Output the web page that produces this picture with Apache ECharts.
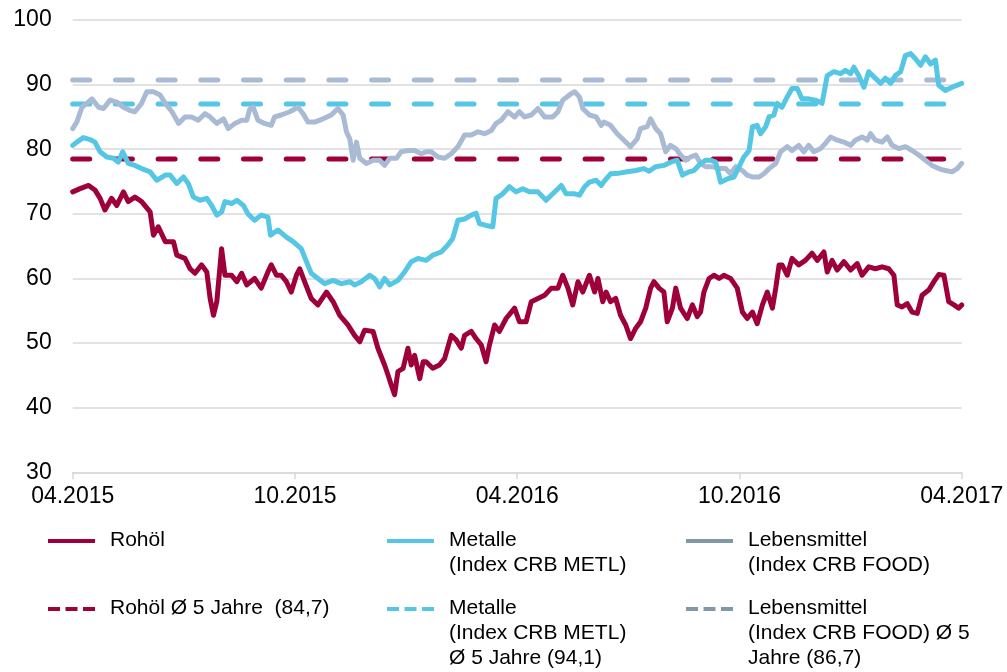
<!DOCTYPE html>
<html>
<head>
<meta charset="utf-8">
<script src="https://cdn.jsdelivr.net/npm/echarts/dist/echarts.min.js"></script>
<style>
  html, body { margin: 0; padding: 0; background: #fff; }
  #chart { width: 1007px; height: 672px; }
</style>
</head>
<body>
<div id="chart"></div>
<script>
// x = Monate seit 04.2015
const tickLabels = ['04.2015', '10.2015', '04.2016', '10.2016', '04.2017']

const rohoel = [
  [0,73.4],[0.20,73.9],[0.43,74.4],[0.60,73.7],[0.74,72.4],[0.87,70.6],[1.05,72.4],[1.19,71.3],
  [1.37,73.4],[1.50,71.9],[1.68,72.6],[1.86,71.9],[2.09,70.3],[2.18,66.7],[2.31,68.0],[2.50,65.7],
  [2.72,65.7],[2.81,63.6],[3.03,63.1],[3.17,61.5],[3.30,60.8],[3.48,62.1],[3.62,61.0],[3.71,56.9],
  [3.80,54.3],[3.89,56.4],[4.02,64.6],[4.11,60.5],[4.29,60.5],[4.43,59.5],[4.56,60.8],[4.70,59.0],
  [4.91,60.0],[5.09,58.5],[5.27,61.0],[5.36,62.1],[5.50,60.5],[5.63,60.5],[5.77,59.5],[5.90,57.9],
  [6.04,60.5],[6.13,61.5],[6.26,59.5],[6.44,56.9],[6.62,55.9],[6.85,57.9],[7.03,56.4],[7.21,54.3],
  [7.43,52.8],[7.61,51.2],[7.75,50.2],[7.88,52.0],[8.11,51.8],[8.24,49.2],[8.42,46.6],[8.51,45.1],
  [8.60,43.5],[8.69,42.0],[8.78,45.6],[8.92,46.1],[9.05,49.2],[9.14,46.6],[9.23,48.1],[9.37,44.5],
  [9.46,47.1],[9.54,47.1],[9.72,46.1],[9.90,46.6],[10.04,47.6],[10.22,51.2],[10.35,50.5],[10.49,49.2],
  [10.58,51.2],[10.76,51.8],[10.89,50.7],[11.03,49.7],[11.16,47.1],[11.25,49.7],[11.39,52.8],[11.52,51.8],
  [11.70,53.8],[11.93,55.4],[12.06,53.3],[12.24,53.3],[12.38,56.4],[12.56,56.9],[12.74,57.4],[12.92,58.5],
  [13.10,58.5],[13.23,60.5],[13.37,58.5],[13.50,55.9],[13.64,59.5],[13.77,57.9],[13.95,60.5],[14.09,57.9],
  [14.18,60.0],[14.31,56.4],[14.40,57.9],[14.52,56.4],[14.66,56.9],[14.79,54.3],[14.93,52.8],[15.06,50.7],
  [15.20,52.3],[15.33,53.3],[15.47,55.4],[15.60,58.5],[15.69,59.5],[15.83,58.5],[15.96,57.9],[16.05,53.3],
  [16.19,55.4],[16.28,58.5],[16.41,55.4],[16.59,53.8],[16.73,55.9],[16.86,54.1],[16.95,54.8],[17.04,57.9],
  [17.18,60.0],[17.31,60.5],[17.45,60.0],[17.58,60.5],[17.76,60.0],[17.94,58.5],[18.08,54.8],[18.21,53.8],
  [18.35,54.8],[18.48,53.0],[18.62,55.9],[18.75,57.9],[18.89,55.4],[18.98,58.5],[19.07,62.1],[19.15,62.1],
  [19.29,60.5],[19.42,63.1],[19.60,62.1],[19.78,62.8],[19.96,63.9],[20.10,62.8],[20.28,64.1],[20.37,61.0],
  [20.50,62.8],[20.64,61.3],[20.82,62.6],[21.00,61.3],[21.18,62.3],[21.31,60.5],[21.49,61.8],[21.67,61.5],
  [21.85,61.8],[22.03,61.5],[22.17,60.5],[22.26,55.9],[22.39,55.6],[22.53,56.1],[22.66,54.8],[22.80,54.6],
  [22.93,57.4],[23.11,58.2],[23.25,59.5],[23.38,60.6],[23.52,60.5],[23.65,56.4],[23.79,55.9],[23.92,55.4],
  [24,55.9]
]

const metalle = [
  [0,80.6],[0.11,81.1],[0.29,81.8],[0.47,81.5],[0.60,81.1],[0.74,79.6],[0.92,78.8],[1.10,78.6],
  [1.23,78.0],[1.35,79.6],[1.50,77.8],[1.68,77.5],[1.86,77.0],[2.09,76.5],[2.27,75.2],[2.50,76.0],
  [2.63,76.0],[2.81,74.7],[2.99,75.7],[3.12,74.7],[3.26,72.6],[3.44,72.1],[3.62,72.4],[3.75,71.3],
  [3.89,69.8],[4.02,70.3],[4.11,71.9],[4.29,71.6],[4.43,72.1],[4.61,71.3],[4.73,70.0],[4.91,69.0],
  [5.09,69.8],[5.27,69.5],[5.34,66.7],[5.54,67.5],[5.77,66.4],[5.95,65.7],[6.17,64.6],[6.31,62.6],
  [6.44,60.8],[6.62,60.0],[6.80,59.2],[7.03,59.7],[7.25,59.2],[7.48,59.5],[7.61,59.0],[7.79,59.5],
  [8.02,60.5],[8.15,60.0],[8.29,58.7],[8.42,60.0],[8.56,59.0],[8.78,59.7],[8.96,61.0],[9.14,62.6],
  [9.32,63.1],[9.54,62.8],[9.72,63.6],[9.95,64.1],[10.13,65.2],[10.26,66.2],[10.40,69.0],[10.58,69.2],
  [10.76,69.8],[10.89,70.1],[10.98,68.5],[11.16,68.2],[11.34,68.0],[11.43,72.4],[11.61,73.1],[11.79,74.2],
  [11.97,73.4],[12.15,73.9],[12.33,73.4],[12.56,73.4],[12.78,72.1],[12.96,73.1],[13.19,74.4],[13.32,73.1],
  [13.55,73.1],[13.68,72.9],[13.82,74.2],[13.95,74.9],[14.13,75.2],[14.27,74.4],[14.34,75.0],[14.52,76.2],
  [14.75,76.3],[14.97,76.5],[15.20,76.7],[15.42,77.0],[15.56,76.6],[15.74,77.3],[15.96,77.5],[16.14,78.0],
  [16.32,78.3],[16.46,76.0],[16.64,76.5],[16.77,76.7],[16.95,77.8],[17.09,78.3],[17.22,78.3],[17.36,78.0],
  [17.49,74.9],[17.67,75.4],[17.85,75.7],[17.99,77.3],[18.12,78.8],[18.26,79.8],[18.35,83.5],[18.48,83.7],
  [18.57,82.4],[18.71,83.5],[18.80,85.0],[18.93,85.3],[19.02,87.1],[19.15,86.5],[19.29,88.1],[19.42,89.4],
  [19.56,89.4],[19.69,87.8],[19.87,87.8],[20.05,87.6],[20.23,87.1],[20.37,91.4],[20.55,92.0],[20.73,91.7],
  [20.86,92.2],[21.00,91.7],[21.09,92.7],[21.22,91.4],[21.36,89.6],[21.49,92.0],[21.63,91.2],[21.81,90.2],
  [21.94,91.0],[22.08,90.2],[22.21,91.4],[22.35,92.0],[22.48,94.5],[22.62,94.8],[22.75,94.0],[22.89,93.0],
  [23.02,94.3],[23.16,93.2],[23.29,93.8],[23.38,89.9],[23.56,89.1],[23.74,89.6],[24,90.2]
]

const lebensmittel = [
  [0,83.2],[0.11,84.2],[0.25,86.5],[0.38,87.1],[0.52,87.8],[0.70,86.5],[0.83,86.3],[1.01,87.6],
  [1.19,87.3],[1.37,86.5],[1.55,86.0],[1.68,85.8],[1.86,87.1],[2.00,88.9],[2.18,88.9],[2.36,88.4],
  [2.50,87.1],[2.68,85.8],[2.86,84.0],[3.03,85.0],[3.21,85.0],[3.39,84.5],[3.57,85.5],[3.71,85.0],
  [3.89,84.0],[4.07,84.7],[4.20,83.2],[4.38,84.0],[4.56,84.5],[4.70,84.5],[4.78,86.2],[4.87,86.5],
  [5.00,84.5],[5.18,84.0],[5.36,83.7],[5.45,85.0],[5.63,85.3],[5.86,85.8],[6.08,86.5],[6.22,85.5],
  [6.35,84.2],[6.53,84.2],[6.76,84.7],[6.98,85.3],[7.16,86.3],[7.30,85.3],[7.39,82.7],[7.48,81.6],
  [7.57,78.3],[7.66,81.1],[7.75,78.6],[7.93,77.8],[8.11,78.3],[8.29,78.3],[8.42,77.5],[8.56,78.6],
  [8.74,78.6],[8.87,79.6],[9.05,79.8],[9.23,79.8],[9.41,79.3],[9.54,79.6],[9.68,79.6],[9.86,78.8],
  [10.04,78.6],[10.22,79.3],[10.40,80.4],[10.58,82.2],[10.76,82.2],[10.94,82.7],[11.12,82.4],[11.30,82.9],
  [11.43,84.0],[11.57,84.5],[11.75,85.8],[11.93,85.0],[12.06,85.8],[12.20,85.0],[12.38,85.3],[12.56,86.3],
  [12.74,85.0],[12.96,85.0],[13.10,85.8],[13.23,87.6],[13.41,88.4],[13.55,88.9],[13.68,88.1],[13.77,86.3],
  [13.95,85.3],[14.13,85.0],[14.27,83.7],[14.34,84.2],[14.52,83.7],[14.70,82.4],[14.88,81.4],[15.06,80.4],
  [15.24,81.6],[15.33,83.2],[15.51,83.5],[15.60,84.7],[15.74,83.2],[15.87,82.4],[16.01,79.6],[16.14,80.6],
  [16.28,80.1],[16.41,79.1],[16.55,78.3],[16.68,78.8],[16.82,79.1],[16.95,77.8],[17.09,77.3],[17.27,77.3],
  [17.45,77.0],[17.63,77.0],[17.76,76.2],[17.90,77.3],[18.08,76.7],[18.21,76.0],[18.35,75.7],[18.53,75.7],
  [18.66,76.2],[18.80,77.0],[18.98,77.8],[19.11,79.6],[19.15,79.3],[19.29,80.4],[19.42,79.8],[19.60,80.6],
  [19.74,79.6],[19.87,80.6],[20.01,79.6],[20.19,80.1],[20.32,80.9],[20.46,81.9],[20.64,81.4],[20.82,81.1],
  [21.00,80.6],[21.13,81.4],[21.31,81.9],[21.45,81.4],[21.54,82.4],[21.67,81.4],[21.85,81.1],[21.99,81.9],
  [22.12,80.6],[22.30,80.1],[22.48,80.4],[22.66,79.8],[22.84,79.1],[23.02,78.3],[23.20,77.5],[23.38,77.0],
  [23.56,76.7],[23.74,76.5],[23.88,77.0],[24,77.8]
]

// 5-Jahres-Durchschnitte (so wie im Chart eingezeichnet)
const avgRohoel = 78.5
const avgMetalle = 87.0
const avgLebensmittel = 90.7

const legendRow1 = ['Rohöl', 'Metalle\n(Index CRB METL)', 'Lebensmittel\n(Index CRB FOOD)']
const legendRow2 = ['Rohöl Ø 5 Jahre  (84,7)', 'Metalle\n(Index CRB METL)\nØ 5 Jahre (94,1)', 'Lebensmittel\n(Index CRB FOOD) Ø 5\nJahre (86,7)']

const RED = '#9e0039'
const CYAN = '#55c6e3'
const GREY = '#a9bad4'
const GREY_LEG = '#7f99a9'
const FONT = '"Liberation Sans", Arial, sans-serif'

const chart = echarts.init(document.getElementById('chart'))

function avgLine(name, level, color) {
  return {
    name: name,
    type: 'line',
    data: [[0, level], [24, level]],
    symbol: 'none',
    silent: true,
    z: 2,
    lineStyle: { color: color, width: 5, type: [17, 25.7], cap: 'round' }
  }
}

function priceLine(name, data, color, z) {
  return {
    name: name,
    type: 'line',
    data: data,
    symbol: 'none',
    z: z,
    lineStyle: { color: color, width: 5, join: 'round', cap: 'round' }
  }
}

// Legende von Hand, damit das Symbol an der ersten Textzeile steht
const legendCols = [48, 387, 686]
const legendColors = [RED, CYAN, GREY_LEG]
const legendGraphics = []
legendCols.forEach((x, i) => {
  [[541, legendRow1[i], null], [609, legendRow2[i], [12, 5.5]]].forEach(([y, txt, dash]) => {
    legendGraphics.push({
      type: 'line',
      shape: { x1: x, y1: y, x2: x + 47, y2: y },
      style: { stroke: legendColors[i], lineWidth: 4, lineDash: dash }
    })
    legendGraphics.push({
      type: 'text',
      x: x + 62,
      y: y - 13.5,
      style: { text: txt, font: '21px ' + FONT, fill: '#000', lineHeight: 25, verticalAlign: 'top' }
    })
  })
})

chart.setOption({
  animation: false,
  backgroundColor: '#fff',
  grid: { left: 72.7, right: 45.3, top: 20, bottom: 199.7 },
  xAxis: {
    type: 'value',
    min: 0,
    max: 24,
    interval: 6,
    axisLine: { lineStyle: { color: '#d9d9d9', width: 1.5 } },
    axisTick: { show: true, length: 7, lineStyle: { color: '#d9d9d9', width: 1.5 } },
    splitLine: { show: false },
    axisLabel: {
      margin: 13,
      color: '#000',
      fontSize: 23,
      fontFamily: FONT,
      formatter: v => tickLabels[Math.round(v / 6)]
    }
  },
  yAxis: {
    type: 'value',
    min: 30,
    max: 100,
    interval: 10,
    axisLine: { show: false },
    axisTick: { show: false },
    splitLine: { lineStyle: { color: '#d9d9d9', width: 1.5 } },
    axisLabel: { margin: 21, color: '#000', fontSize: 23, fontFamily: FONT }
  },
  series: [
    avgLine('Lebensmittel Ø 5 Jahre', avgLebensmittel, GREY),
    avgLine('Metalle Ø 5 Jahre', avgMetalle, CYAN),
    avgLine('Rohöl Ø 5 Jahre', avgRohoel, RED),
    priceLine('Lebensmittel', lebensmittel, GREY, 3),
    priceLine('Metalle', metalle, CYAN, 4),
    priceLine('Rohöl', rohoel, RED, 5)
  ],
  graphic: legendGraphics
})
</script>
</body>
</html>
